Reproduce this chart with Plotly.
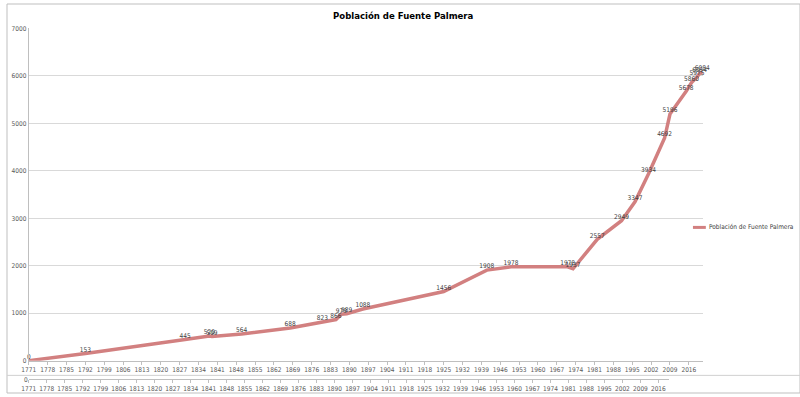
import plotly.graph_objects as go

years = [1771, 1792, 1829, 1838, 1839, 1850, 1868, 1880, 1885, 1887, 1889, 1895,
         1925, 1941, 1950, 1971, 1973, 1982, 1991, 1996, 2001, 2007, 2009, 2015,
         2017, 2019, 2020, 2021]
values = [0, 153, 445, 520, 509, 564, 688, 823, 866, 979, 989, 1088,
          1456, 1908, 1978, 1978, 1937, 2557, 2949, 3347, 3934, 4692, 5196, 5678,
          5860, 5975, 6054, 6084]
tick_years = list(range(1771, 2017, 7))
tick_labels = [str(y) for y in tick_years]
y_ticks = [0, 1000, 2000, 3000, 4000, 5000, 6000, 7000]
series_name = "Población de Fuente Palmera"
title = "Población de Fuente Palmera"

W, H = 800, 397
def px(x):
    return x / W
def py(y):
    return (H - y) / H

NARROW = "Liberation Sans Narrow, DejaVu Sans Condensed, Arial Narrow, sans-serif"
LINE_COLOR = "rgb(210,128,128)"
GRID = "#D9D9D9"
AXIS = "#BFBFBF"
TXT = "#404040"

fig = go.Figure()
fig.add_trace(go.Scatter(
    x=years, y=values, mode="lines+text",
    text=[str(v) for v in values], textposition="top center",
    textfont=dict(family=NARROW, size=6.5, color=TXT),
    line=dict(color=LINE_COLOR, width=3.5),
    name=series_name, showlegend=False, cliponaxis=False,
    xaxis="x", yaxis="y",
))
# secondary (empty) axis row
fig.add_trace(go.Scatter(x=[1771], y=[0], mode="markers", marker=dict(opacity=0),
                         showlegend=False, hoverinfo="skip", xaxis="x2", yaxis="y2"))

fig.update_layout(
    width=W, height=H,
    margin=dict(l=0, r=0, t=0, b=0),
    paper_bgcolor="white", plot_bgcolor="white",
    showlegend=False,
    xaxis=dict(
        domain=[px(22), px(702)], range=[1771, 2021.2],
        tickvals=tick_years, ticktext=tick_labels,
        tickfont=dict(family=NARROW, size=6.5, color="#595959"),
        ticks="outside", ticklen=3, tickcolor=AXIS,
        showgrid=False, showline=True, linecolor=AXIS, linewidth=1,
        zeroline=False, anchor="y",
    ),
    yaxis=dict(
        domain=[py(364), py(25)], range=[0, 7000],
        tickvals=y_ticks, ticktext=[str(v) for v in y_ticks],
        tickfont=dict(family=NARROW, size=6.5, color="#595959"),
        showgrid=True, gridcolor=GRID, gridwidth=1,
        showline=True, linecolor=AXIS, linewidth=1,
        zeroline=False, ticks="", anchor="x",
    ),
    xaxis2=dict(
        domain=[px(22), px(668)], range=[1771, 2020.2],
        tickvals=tick_years, ticktext=tick_labels,
        tickfont=dict(family=NARROW, size=6.5, color="#595959"),
        ticks="outside", ticklen=3, tickcolor=AXIS,
        showgrid=False, showline=True, linecolor=AXIS, linewidth=1,
        zeroline=False, anchor="y2",
    ),
    yaxis2=dict(
        domain=[py(383), py(382)], range=[0, 1],
        tickvals=[0], ticktext=["0"],
        tickfont=dict(family=NARROW, size=6.5, color="#595959"),
        showgrid=False, showline=False, zeroline=False, anchor="x2",
    ),
    shapes=[
        dict(type="rect", xref="paper", yref="paper", x0=0, x1=1, y0=0, y1=1,
             line=dict(color=AXIS, width=1)),
        dict(type="line", xref="paper", yref="paper", x0=0, x1=1, y0=py(379), y1=py(379),
             line=dict(color="#D0D0D0", width=1)),
        dict(type="line", xref="paper", yref="paper", x0=px(692), x1=px(705),
             y0=py(228), y1=py(228), line=dict(color=LINE_COLOR, width=3)),
    ],
    annotations=[
        dict(text="<b>" + title + "</b>", xref="paper", yref="paper", x=0.5, y=py(12),
             showarrow=False, font=dict(family=NARROW, size=9.5, color="#000000"),
             xanchor="center", yanchor="middle"),
        dict(text=series_name, xref="paper", yref="paper", x=px(706), y=py(228),
             showarrow=False, font=dict(family=NARROW, size=6.5, color=TXT),
             xanchor="left", yanchor="middle"),
    ],
)

fig.write_html("out.html")
